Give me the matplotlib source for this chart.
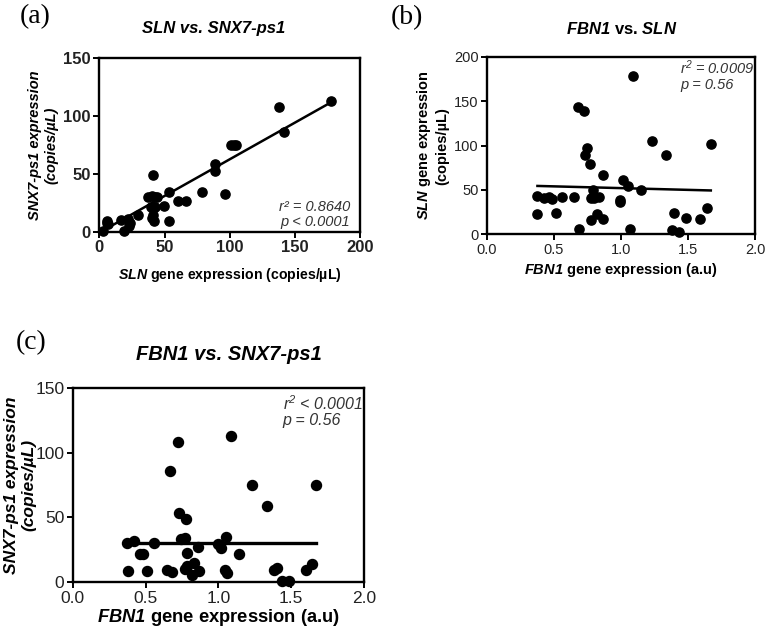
import numpy as np
import matplotlib
matplotlib.use("Agg")
import matplotlib.pyplot as plt

plt.rcParams['font.family'] = ['Liberation Sans', 'DejaVu Sans']
plt.rcParams['mathtext.fontset'] = 'custom'
plt.rcParams['mathtext.it'] = 'Liberation Sans:italic:bold'
plt.rcParams['mathtext.rm'] = 'Liberation Sans:italic:bold'
plt.rcParams['mathtext.bf'] = 'Liberation Sans:bold'

# (a) SLN vs SNX7-ps1
sln_a = [3, 5.7, 6.4, 6.0, 16.6, 19.2, 22.2, 23.5, 23, 29.4, 37.6, 40.7, 42.7, 44.5,
         41, 40, 42.5, 41.4, 42.2, 40.5, 49.9, 53.5, 53.5, 60.1, 66.3, 79, 89, 89,
         96.5, 101, 103, 105, 138, 142, 177.5]
snx_a = [1, 9.5, 6.6, 8.0, 10.3, 0.8, 11, 8, 5.5, 14.6, 29.9, 31, 30.4, 30,
         49, 22, 22, 14.6, 9.7, 12, 22.4, 34.7, 9.5, 27, 27, 34.2, 59, 53,
         33, 75, 75, 75, 108, 86, 113]
fit_a = (0.632, -0.5)

# (b) FBN1 vs SLN
fbn_b = [0.376, 0.376, 0.425, 0.465, 0.483, 0.515, 0.562, 0.649, 0.677, 0.721, 0.684,
         0.746, 0.734, 0.766, 0.789, 0.776, 0.8, 0.776, 0.821, 0.836, 0.863, 0.863,
         0.993, 0.993, 1.012, 1.05, 1.067, 1.088, 1.147, 1.229, 1.333, 1.38, 1.395,
         1.43, 1.485, 1.59, 1.64, 1.67]
sln_b = [43.7, 22.6, 41, 42, 40, 24, 42, 42, 143.7, 138.4, 6,
         97, 89.4, 79, 50, 41, 41.4, 15.8, 23.3, 42.6, 66.8, 17.3,
         38.8, 36.9, 61, 54.3, 6, 178.8, 49.8, 104.8, 89, 4.9, 23.7,
         3, 18.8, 17, 29.4, 102]
fit_b = (-3.94, 56.0)

# (c) FBN1 vs SNX7-ps1
fbn_c = [0.375, 0.423, 0.462, 0.48, 0.377, 0.512, 0.558, 0.645, 0.679, 0.67, 0.72,
         0.729, 0.775, 0.743, 0.77, 0.786, 0.77, 0.786, 0.832, 0.866, 0.82, 0.862,
         0.999, 1.015, 1.051, 1.047, 1.06, 1.086, 1.143, 1.23, 1.335, 1.383, 1.399,
         1.433, 1.486, 1.598, 1.643, 1.669]
snx_c = [30.5, 31.8, 21.8, 21.8, 9, 8.5, 30.5, 9.5, 7.7, 86, 108,
         53.7, 48.6, 33.1, 33.9, 22.3, 10, 12.6, 15.1, 9, 5.6, 27.5,
         29.3, 26.2, 35.2, 9.5, 6.9, 113, 21.8, 75.3, 59.1, 9.5, 11.3,
         1, 1, 9.5, 14.1, 75.3]
fit_c = (0.0, 30.0)


def draw_panel(ax, x, y, fit, xlim, ylim, xticks, yticks, tick_size, bold_ticks, msize, lw=1.8):
    ax.scatter(x, y, s=msize, color='black', zorder=3, clip_on=False)
    xs = np.array([min(x), max(x)])
    ax.plot(xs, fit[0] * xs + fit[1], color='black', lw=lw, zorder=2)
    ax.set_xlim(xlim)
    ax.set_ylim(ylim)
    ax.set_xticks(xticks)
    ax.set_yticks(yticks)
    for s in ax.spines.values():
        s.set_linewidth(1.7)
    ax.tick_params(direction='out', length=4, width=1.4, labelsize=tick_size, pad=2,
                   labelcolor='#222222')
    if bold_ticks:
        for lab in ax.get_xticklabels() + ax.get_yticklabels():
            lab.set_fontweight('bold')


fig = plt.figure(figsize=(7.67, 6.34), dpi=100)

# panel a
ax_a = fig.add_axes([0.1295, 0.634, 0.340, 0.2745])
draw_panel(ax_a, sln_a, snx_a, fit_a, (0, 200), (0, 150), [0, 50, 100, 150, 200],
           [0, 50, 100, 150], 12, True, 44)
ax_a.set_xlabel(r'$\mathit{SLN}$ gene expression (copies/µL)', fontsize=10.2,
                fontweight='bold', labelpad=8)
ax_a.set_ylabel('SNX7-ps1 expression\n(copies/µL)', fontsize=10.5, fontweight='bold',
                fontstyle='italic')
ax_a.yaxis.set_label_coords((58 - 99.3) / 260.7, 0.5)
ax_a.text(0.962, 0.10, 'r² = 0.8640\np < 0.0001', transform=ax_a.transAxes, ha='right',
          va='center', fontsize=10.5, fontstyle='italic', color='#333333', linespacing=1.05)

# panel b
ax_b = fig.add_axes([0.635, 0.6304, 0.3494, 0.280])
draw_panel(ax_b, fbn_b, sln_b, fit_b, (0, 2), (0, 200), [0, 0.5, 1.0, 1.5, 2.0],
           [0, 50, 100, 150, 200], 10.5, False, 44)
ax_b.xaxis.set_major_formatter(plt.FormatStrFormatter('%.1f'))
ax_b.set_xlabel(r'$\mathit{FBN1}$ gene expression (a.u)', fontsize=10.5,
                fontweight='bold', labelpad=3)
ax_b.set_ylabel(r'$\mathit{SLN}$ gene expression' + '\n(copies/µL)', fontsize=10.5,
                fontweight='bold')
ax_b.yaxis.set_label_coords((449 - 487) / 268, 0.5)
ax_b.text(0.72, 0.895, r'r$\mathregular{^2}$ = 0.0009' + '\np = 0.56', transform=ax_b.transAxes,
          ha='left', va='center', fontsize=10.5, fontstyle='italic', color='#333333',
          linespacing=1.05)

# panel c
ax_c = fig.add_axes([0.0948, 0.0815, 0.380, 0.307])
draw_panel(ax_c, fbn_c, snx_c, fit_c, (0, 2), (0, 150), [0, 0.5, 1.0, 1.5, 2.0],
           [0, 50, 100, 150], 12.5, False, 52, lw=2.4)
ax_c.xaxis.set_major_formatter(plt.FormatStrFormatter('%.1f'))
ax_c.set_xlabel(r'$\mathit{FBN1}$ gene expression (a.u)', fontsize=13.2,
                fontweight='bold', labelpad=1)
ax_c.set_ylabel('SNX7-ps1 expression\n(copies/µL)', fontsize=12.5, fontweight='bold',
                fontstyle='italic')
ax_c.yaxis.set_label_coords((36 - 72.7) / 291.6, 0.5)
ax_c.text(0.72, 0.88, r'r$\mathregular{^2}$ < 0.0001' + '\np = 0.56', transform=ax_c.transAxes,
          ha='left', va='center', fontsize=11.5, fontstyle='italic', color='#333333',
          linespacing=1.05)

# titles
fig.text(214 / 767, 1 - 29 / 634, 'SLN vs. SNX7-ps1', ha='center', va='center',
         fontsize=12, fontweight='bold', fontstyle='italic')
fig.text(622 / 767, 1 - 29 / 634, r'$\mathit{FBN1}$ vs. $\mathit{SLN}$', ha='center',
         va='center', fontsize=12, fontweight='bold')
fig.text(229 / 767, 1 - 355 / 634, 'FBN1 vs. SNX7-ps1', ha='center', va='center',
         fontsize=14.5, fontweight='bold', fontstyle='italic')

# panel letters
for lab, px, py in [('(a)', 35, 17), ('(b)', 407, 18), ('(c)', 31, 343)]:
    fig.text(px / 767, 1 - py / 634, lab, ha='center', va='center', fontsize=20,
             family='Liberation Serif')

fig.savefig('out.png', dpi=100)
